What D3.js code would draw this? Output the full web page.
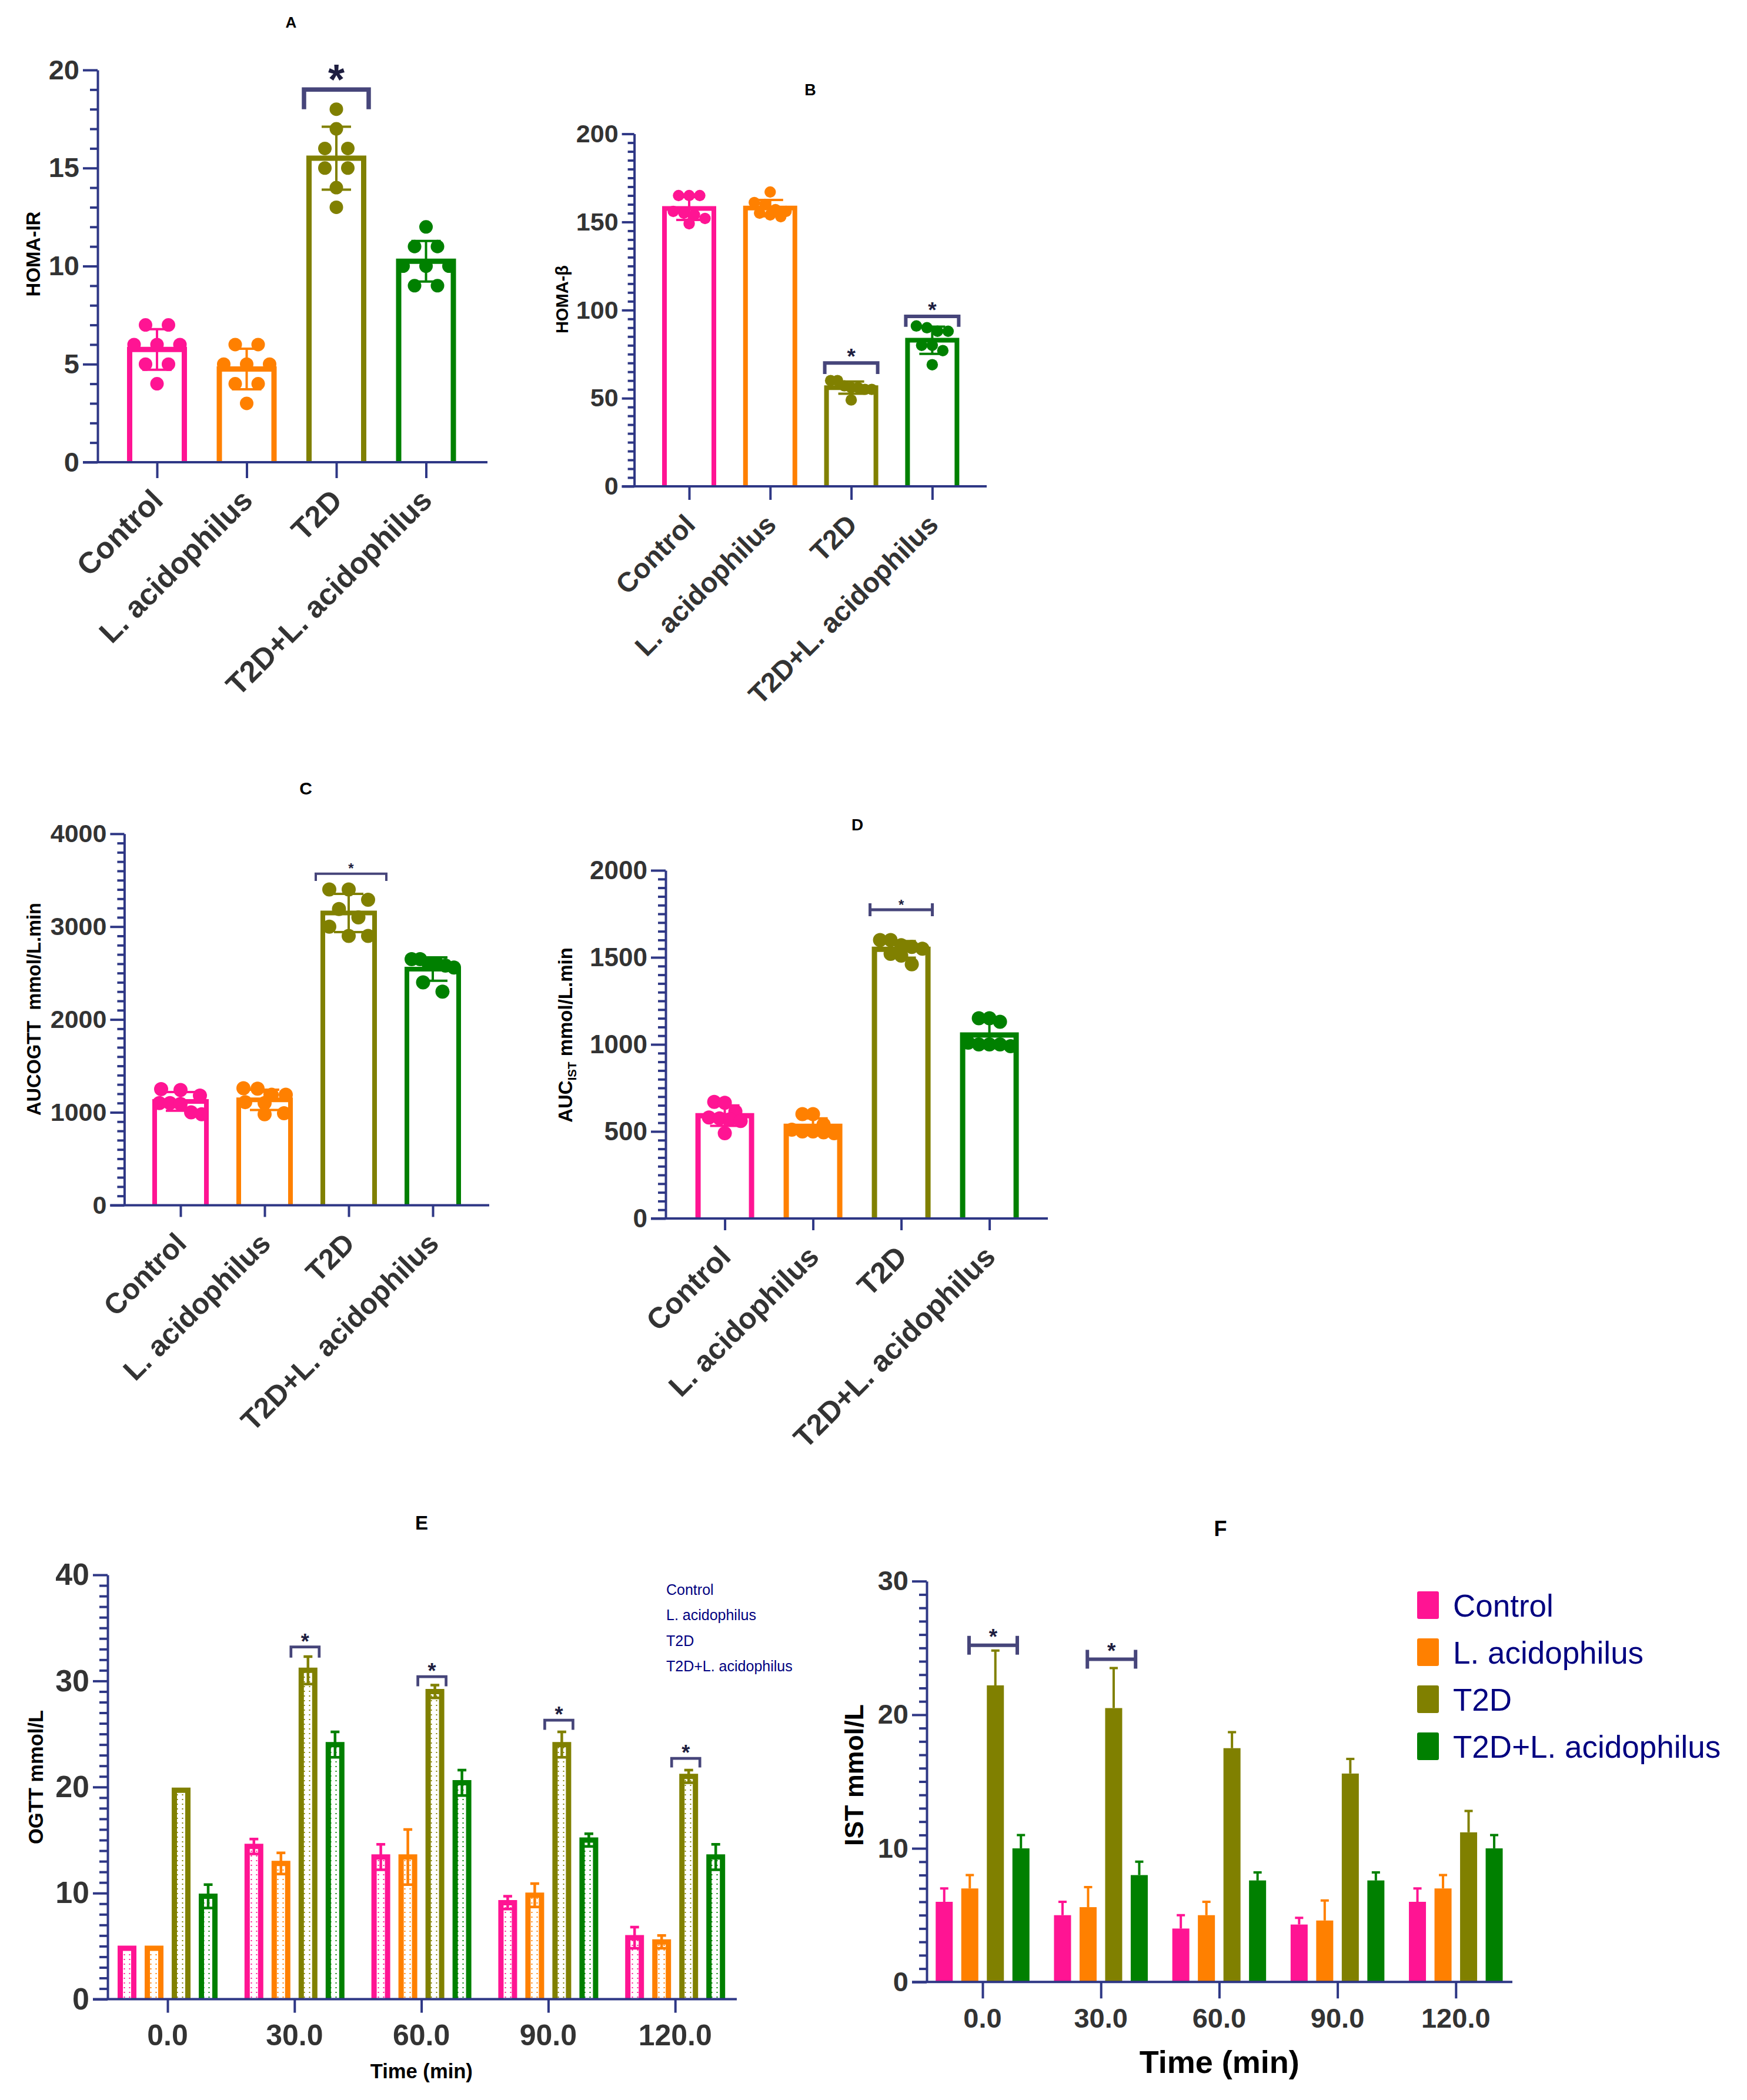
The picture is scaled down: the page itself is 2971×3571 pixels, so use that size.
<!DOCTYPE html>
<html>
<head>
<meta charset="utf-8">
<title>HOMA indices, AUC and glucose tolerance panels</title>
<script src="https://d3js.org/d3.v7.min.js"></script>
<style>
body, html { margin: 0; padding: 0; background: #fff; }
svg { display: block; }
text { font-family: "Liberation Sans", Arial, sans-serif; }
</style>
</head>
<body>
<script>
var W = 2971, H = 3571;

// ---- data ----
var groups = ["Control", "L. acidophilus", "T2D", "T2D+L. acidophilus"];
var groupColors = ["#FF1493", "#FF8000", "#808000", "#008000"];
var times = ["0.0", "30.0", "60.0", "90.0", "120.0"];

// individual animals (n = 8 per group)
var homaIR = [
  [7, 7, 6, 6, 6, 5, 5, 4],
  [6, 6, 5, 5, 5, 4, 4, 3],
  [18, 17, 16, 16, 15, 15, 14, 13],
  [12, 11, 11, 10, 10, 10, 9, 9]
];
var homaB = [
  [165, 165, 165, 156, 155, 154, 152, 149],
  [167, 161, 160, 157, 156, 155, 154, 153],
  [60, 60, 57, 56, 56, 55, 55, 49],
  [91, 90, 88, 88, 80, 80, 77, 69]
];
var aucOgtt = [
  [1250, 1240, 1180, 1100, 1100, 1090, 1000, 980],
  [1260, 1255, 1190, 1190, 1110, 1100, 990, 980],
  [3400, 3400, 3290, 3190, 3100, 3000, 2900, 2900],
  [2650, 2650, 2600, 2600, 2580, 2560, 2400, 2300]
];
var aucIst = [
  [670, 665, 615, 580, 575, 570, 560, 490],
  [600, 600, 540, 510, 500, 500, 495, 490],
  [1600, 1600, 1570, 1560, 1550, 1520, 1510, 1460],
  [1150, 1150, 1130, 1010, 1000, 1000, 1000, 990]
];

// OGTT time course, mean and SD per group
var ogttMean = [
  [4.8, 14.4, 13.4, 9.1, 5.8],
  [4.8, 12.8, 13.4, 9.8, 5.4],
  [19.7, 31.0, 29.0, 24.0, 21.0],
  [9.7, 24.0, 20.4, 15.0, 13.4]
];
var ogttSD = [
  [0, 0.7, 1.2, 0.6, 1.0],
  [0, 1.0, 2.6, 1.1, 0.6],
  [0, 1.3, 0.6, 1.2, 0.6],
  [1.1, 1.2, 1.2, 0.6, 1.2]
];

// IST time course, mean and SD per group
var istMean = [
  [6.0, 5.0, 4.0, 4.3, 6.0],
  [7.0, 5.6, 5.0, 4.6, 7.0],
  [22.2, 20.5, 17.5, 15.6, 11.2],
  [10.0, 8.0, 7.6, 7.6, 10.0]
];
var istSD = [
  [1.0, 1.0, 1.0, 0.5, 1.0],
  [1.0, 1.5, 1.0, 1.5, 1.0],
  [2.6, 3.0, 1.2, 1.1, 1.6],
  [1.0, 1.0, 0.6, 0.6, 1.0]
];

// significance brackets: group/time index, bracket level, leg end level
var sigA = [{ i: 2, top: 19, bottom: 18 }];
var sigB = [{ i: 2, top: 70, bottom: 63.7 }, { i: 3, top: 96.4, bottom: 90.5 }];
var sigC = [{ i: 2, top: 3570, bottom: 3492 }];
var sigD = [{ i: 2, top: 1774 }];
var sigE = [{ i: 1, top: 33.2, bottom: 32.2 }, { i: 2, top: 30.4, bottom: 29.5 },
            { i: 3, top: 26.3, bottom: 25.4 }, { i: 4, top: 22.7, bottom: 21.85 }];
var sigF = [{ i: 0, top: 25.2 }, { i: 1, top: 24.15 }];

// ---- styles ----
var AXIS = "#2E3785", BRACKET = "#46457A", STAR = "#1E1E40", TICK = "#333333", LEGEND = "#000080";

var svg = d3.select("body").append("svg")
  .attr("width", W).attr("height", H)
  .attr("viewBox", "0 0 " + W + " " + H);
svg.append("rect").attr("width", W).attr("height", H).attr("fill", "#fff");

var defs = svg.append("defs");
groupColors.forEach(function(c, k) {
  var p = defs.append("pattern").attr("id", "dots" + k)
    .attr("patternUnits", "userSpaceOnUse").attr("width", 9).attr("height", 8);
  p.append("rect").attr("width", 9).attr("height", 8).attr("fill", "#fff");
  p.append("rect").attr("x", 3.5).attr("y", 3).attr("width", 2).attr("height", 2).attr("fill", c);
});

function title(cfg) {
  svg.append("text")
    .attr("x", cfg.titleX).attr("y", cfg.titleY + 0.358 * cfg.titleSize)
    .attr("text-anchor", "middle").attr("font-weight", "bold")
    .attr("font-size", cfg.titleSize).attr("fill", "#000").text(cfg.title);
}

function yAxis(g, y, cfg, fmt) {
  var lo = cfg.domain[0], hi = cfg.domain[1];
  var minorVals = d3.range(lo, hi + cfg.minor / 2, cfg.minor).filter(function(v) {
    return Math.abs(v / cfg.major - Math.round(v / cfg.major)) > 1e-6;
  });
  var gm = g.append("g").attr("transform", "translate(" + cfg.axisX + ",0)")
    .call(d3.axisLeft(y).tickValues(minorVals).tickSize(cfg.minorLen).tickSizeOuter(0).tickFormat(""));
  gm.select(".domain").remove();
  gm.selectAll("line").attr("stroke", AXIS).attr("stroke-width", 4);

  var gM = g.append("g").attr("transform", "translate(" + cfg.axisX + ",0)")
    .call(d3.axisLeft(y).tickValues(d3.range(lo, hi + cfg.major / 2, cfg.major))
      .tickSize(cfg.majorLen).tickSizeOuter(0).tickPadding(6).tickFormat(fmt || d3.format("d")));
  gM.attr("font-family", null).attr("font-size", null);
  gM.select(".domain").attr("stroke", AXIS).attr("stroke-width", 4);
  gM.selectAll("line").attr("stroke", AXIS).attr("stroke-width", 4);
  gM.selectAll("text").attr("font-size", cfg.tickFont).attr("font-weight", "bold").attr("fill", TICK);

  // horizontal axis line
  g.append("line")
    .attr("x1", cfg.axisX - cfg.majorLen).attr("x2", cfg.axisEnd)
    .attr("y1", y(0)).attr("y2", y(0))
    .attr("stroke", AXIS).attr("stroke-width", 4);
}

function xTicks(g, x, y, cfg) {
  var gx = g.append("g").attr("transform", "translate(0," + y(0) + ")")
    .call(d3.axisBottom(x).tickSize(cfg.xTickLen).tickSizeOuter(0).tickFormat(""));
  gx.select(".domain").remove();
  gx.selectAll("line").attr("stroke", AXIS).attr("stroke-width", 4);
}

function yTitle(g, cfg) {
  var t = g.append("text")
    .attr("transform", "translate(" + (cfg.yLabelX + 0.358 * cfg.yLabelFont) + "," + cfg.yLabelY + ") rotate(-90)")
    .attr("text-anchor", "middle").attr("font-weight", "bold")
    .attr("font-size", cfg.yLabelFont).attr("fill", "#000")
    .style("white-space", "pre");
  if (cfg.yLabelSub) {
    t.append("tspan").text(cfg.yLabel);
    t.append("tspan").attr("font-size", cfg.yLabelFont * 0.62).attr("dy", cfg.yLabelFont * 0.22).text(cfg.yLabelSub);
    t.append("tspan").attr("dy", -cfg.yLabelFont * 0.22).text(cfg.yLabelRest);
  } else {
    t.text(cfg.yLabel);
  }
}

function star(g, x, yLine, cfg) {
  g.append("text")
    .attr("x", x).attr("y", yLine - cfg.starGap + 0.585 * cfg.starFont)
    .attr("text-anchor", "middle").attr("font-weight", "bold")
    .attr("font-size", cfg.starFont).attr("fill", STAR).text("*");
}

function bracket(g, x1, x2, y, cfg, yLeg) {
  if (yLeg !== undefined) {
    g.append("path")
      .attr("d", "M" + x1 + "," + yLeg + "V" + y + "H" + x2 + "V" + yLeg)
      .attr("fill", "none").attr("stroke", BRACKET).attr("stroke-width", cfg.bracketWidth)
      .attr("stroke-linejoin", "miter");
  } else {
    g.append("path")
      .attr("d", "M" + x1 + "," + y + "H" + x2 +
        "M" + x1 + "," + (y - cfg.capHalf) + "V" + (y + cfg.capHalf) +
        "M" + x2 + "," + (y - cfg.capHalf) + "V" + (y + cfg.capHalf))
      .attr("fill", "none").attr("stroke", BRACKET).attr("stroke-width", cfg.bracketWidth);
  }
}

// spread points of similar height into symmetric rows, kept inside the bar
function swarm(vals, y, r, spread, maxRow) {
  var pts = vals.map(function(v) { return { v: v, y: y(v) }; })
    .sort(function(a, b) { return b.v - a.v; });
  var rows = [];
  pts.forEach(function(p) {
    var row = rows[rows.length - 1];
    if (row && p.y - row[0].y < 1.6 * r) row.push(p); else rows.push([p]);
  });
  rows.forEach(function(row) {
    var n = row.length;
    var s = n > 1 ? Math.min(spread, maxRow / (n - 1)) : 0;
    row.forEach(function(p, j) { p.dx = (j - (n - 1) / 2) * s; });
  });
  return pts;
}

function scatterPanel(cfg, values, sigs) {
  title(cfg);
  var g = svg.append("g");
  var y = d3.scaleLinear().domain(cfg.domain).range([cfg.yBottom, cfg.yTop]);
  var x = d3.scalePoint().domain(groups)
    .range([cfg.firstX, cfg.firstX + cfg.step * (groups.length - 1)]);

  var half = (cfg.barW - cfg.barStroke) / 2;
  groups.forEach(function(name, k) {
    var vals = values[k];
    var m = d3.mean(vals), sd = d3.deviation(vals);
    var cx = x(name), c = groupColors[k];
    g.append("path")
      .attr("d", "M" + (cx - half) + "," + y(0) + "V" + y(m) + "H" + (cx + half) + "V" + y(0))
      .attr("fill", "#fff").attr("stroke", c).attr("stroke-width", cfg.barStroke);
    g.selectAll(null).data(swarm(vals, y, cfg.r, cfg.spread, cfg.maxRow)).join("circle")
      .attr("cx", function(p) { return cx + p.dx; })
      .attr("cy", function(p) { return p.y; })
      .attr("r", cfg.r).attr("fill", c);
    var cap = cfg.errCap / 2;
    g.append("path")
      .attr("d", "M" + cx + "," + y(m - sd) + "V" + y(m + sd) +
        "M" + (cx - cap) + "," + y(m + sd) + "H" + (cx + cap) +
        "M" + (cx - cap) + "," + y(m - sd) + "H" + (cx + cap))
      .attr("fill", "none").attr("stroke", c).attr("stroke-width", 4);
  });

  yAxis(g, y, cfg);
  xTicks(g, x, y, cfg);
  yTitle(g, cfg);

  g.selectAll(".xlab").data(groups).join("text")
    .attr("transform", function(d) {
      return "translate(" + (x(d) + 13) + "," + (y(0) + 68) + ") rotate(-45)";
    })
    .attr("text-anchor", "end").attr("font-weight", "bold")
    .attr("font-size", cfg.xLabelFont).attr("fill", TICK)
    .text(function(d) { return d; });

  sigs.forEach(function(s) {
    var cx = x(groups[s.i]) + (cfg.bracketShift || 0);
    var yl = y(s.top);
    bracket(g, cx - cfg.bracketHalf, cx + cfg.bracketHalf, yl, cfg,
      s.bottom !== undefined ? y(s.bottom) : undefined);
    star(g, cx, yl, cfg);
  });
}

function groupedPanel(cfg, means, sds, sigs) {
  title(cfg);
  var g = svg.append("g");
  var y = d3.scaleLinear().domain(cfg.domain).range([cfg.yBottom, cfg.yTop]);
  var x = d3.scalePoint().domain(times)
    .range([cfg.firstX, cfg.firstX + cfg.step * (times.length - 1)]);

  groups.forEach(function(name, k) {
    var c = groupColors[k];
    times.forEach(function(t, j) {
      var m = means[k][j], sd = sds[k][j];
      var cx = x(t) + (k - 1.5) * cfg.barStep;
      if (cfg.outlined) {
        var half = (cfg.barW - cfg.barStroke) / 2;
        g.append("path")
          .attr("d", "M" + (cx - half) + "," + y(0) + "V" + y(m) + "H" + (cx + half) + "V" + y(0))
          .attr("fill", "url(#dots" + k + ")").attr("stroke", c).attr("stroke-width", cfg.barStroke);
      } else {
        g.append("rect")
          .attr("x", cx - cfg.barW / 2).attr("y", y(m))
          .attr("width", cfg.barW).attr("height", y(0) - y(m))
          .attr("fill", c);
      }
      if (sd > 0) {
        var cap = cfg.errCap / 2;
        var d = "M" + cx + "," + y(m) + "V" + y(m + sd) +
          "M" + (cx - cap) + "," + y(m + sd) + "H" + (cx + cap);
        if (cfg.outlined) {
          d += "M" + cx + "," + y(m) + "V" + y(m - sd) +
            "M" + (cx - cap) + "," + y(m - sd) + "H" + (cx + cap);
        }
        g.append("path").attr("d", d).attr("fill", "none")
          .attr("stroke", c).attr("stroke-width", cfg.errWidth);
      }
    });
  });

  yAxis(g, y, cfg);
  xTicks(g, x, y, cfg);
  yTitle(g, cfg);

  g.selectAll(".tlab").data(times).join("text")
    .attr("x", function(d) { return x(d); })
    .attr("y", y(0) + cfg.xTickBaseline)
    .attr("text-anchor", "middle").attr("font-weight", "bold")
    .attr("font-size", cfg.xTickFont).attr("fill", TICK)
    .text(function(d) { return d; });

  g.append("text")
    .attr("x", cfg.xTitleX).attr("y", cfg.xTitleY)
    .attr("text-anchor", "middle").attr("font-weight", "bold")
    .attr("font-size", cfg.xTitleFont).attr("fill", "#000")
    .text("Time (min)");

  sigs.forEach(function(s) {
    var gx = x(times[s.i]);
    var x1 = gx + cfg.bracketSpan[0], x2 = gx + cfg.bracketSpan[1];
    var yl = y(s.top);
    bracket(g, x1, x2, yl, cfg, s.bottom !== undefined ? y(s.bottom) : undefined);
    star(g, (x1 + x2) / 2, yl, cfg);
  });
  return g;
}

// ---- panels ----
scatterPanel({
  title: "A", titleX: 495, titleY: 38, titleSize: 26,
  axisX: 166, yTop: 119, yBottom: 786, domain: [0, 20], major: 5, minor: 1,
  majorLen: 25, minorLen: 13, xTickLen: 27, firstX: 267, step: 152.5, axisEnd: 829,
  barW: 102, barStroke: 9, r: 11.5, spread: 39, maxRow: 78, errCap: 50,
  tickFont: 47, xLabelFont: 51,
  yLabel: "HOMA-IR", yLabelX: 56, yLabelY: 432, yLabelFont: 33,
  starFont: 72, starGap: 34, bracketHalf: 55, bracketWidth: 7.5
}, homaIR, sigA);

scatterPanel({
  title: "B", titleX: 1378, titleY: 152, titleSize: 27,
  axisX: 1078.6, yTop: 227.6, yBottom: 827, domain: [0, 200], major: 50, minor: 5,
  majorLen: 21, minorLen: 11, xTickLen: 23, firstX: 1172, step: 137.8, axisEnd: 1678,
  barW: 92, barStroke: 8, r: 9.7, spread: 18, maxRow: 70, errCap: 44,
  tickFont: 43, xLabelFont: 47,
  yLabel: "HOMA-\u03b2", yLabelX: 956, yLabelY: 509, yLabelFont: 29,
  starFont: 37, starGap: 19.5, bracketHalf: 45, bracketWidth: 6
}, homaB, sigB);

scatterPanel({
  title: "C", titleX: 520, titleY: 1340, titleSize: 30,
  axisX: 211.4, yTop: 1417.8, yBottom: 2049.4, domain: [0, 4000], major: 1000, minor: 100,
  majorLen: 24, minorLen: 12, xTickLen: 20, firstX: 307, step: 143, axisEnd: 832,
  barW: 96, barStroke: 8, r: 12, spread: 33, maxRow: 72, errCap: 50,
  tickFont: 43, xLabelFont: 49,
  yLabel: "AUCOGTT  mmol/L.min", yLabelX: 57, yLabelY: 1716, yLabelFont: 32.6,
  starFont: 24, starGap: 14.6, bracketHalf: 60, bracketShift: 4, bracketWidth: 4
}, aucOgtt, sigC);

scatterPanel({
  title: "D", titleX: 1458, titleY: 1402, titleSize: 28,
  axisX: 1132, yTop: 1480, yBottom: 2072, domain: [0, 2000], major: 500, minor: 50,
  majorLen: 25, minorLen: 13, xTickLen: 20, firstX: 1232.6, step: 150, axisEnd: 1782,
  barW: 100, barStroke: 9, r: 12, spread: 18, maxRow: 74, errCap: 50,
  tickFont: 44, xLabelFont: 50,
  yLabel: "AUC", yLabelSub: "IST", yLabelRest: " mmol/L.min",
  yLabelX: 961, yLabelY: 1760, yLabelFont: 33,
  starFont: 24, starGap: 14.3, bracketHalf: 53, bracketWidth: 5, capHalf: 11
}, aucIst, sigD);

groupedPanel({
  title: "E", titleX: 717, titleY: 2589, titleSize: 33,
  axisX: 183, yTop: 2678, yBottom: 3399.6, domain: [0, 40], major: 10, minor: 1,
  majorLen: 25, minorLen: 14, xTickLen: 23, firstX: 285, step: 215.8, axisEnd: 1253,
  outlined: true, barStep: 46, barW: 32, barStroke: 9, errCap: 15, errWidth: 4.5,
  tickFont: 52, xTickFont: 50, xTickBaseline: 78,
  yLabel: "OGTT mmol/L", yLabelX: 60.6, yLabelY: 3022, yLabelFont: 34.5,
  xTitleX: 716.8, xTitleY: 3534, xTitleFont: 34.6,
  starFont: 36, starGap: 18, bracketSpan: [-6, 42], bracketWidth: 4.7
}, ogttMean, ogttSD, sigE);

groupedPanel({
  title: "F", titleX: 2075.6, titleY: 2599, titleSize: 36,
  axisX: 1576, yTop: 2688.7, yBottom: 3370.3, domain: [0, 30], major: 10, minor: 1,
  majorLen: 25, minorLen: 13, xTickLen: 28, firstX: 1671, step: 201.2, axisEnd: 2572,
  outlined: false, barStep: 43.5, barW: 29, errCap: 14, errWidth: 4,
  tickFont: 47, xTickFont: 47, xTickBaseline: 78,
  yLabel: "IST mmol/L", yLabelX: 1452, yLabelY: 3018.5, yLabelFont: 44.7,
  xTitleX: 2073.7, xTitleY: 3524.6, xTitleFont: 54,
  starFont: 37, starGap: 23, bracketSpan: [-23, 59], bracketWidth: 6, capHalf: 16
}, istMean, istSD, sigF);

// ---- legends ----
var legE = svg.append("g").attr("transform", "translate(1133,2711.5)");
legE.selectAll("text").data(groups).join("text")
  .attr("x", 0).attr("y", function(d, i) { return i * 43.6; })
  .attr("font-size", 25).attr("fill", LEGEND)
  .text(function(d) { return d; });

var legF = svg.append("g").attr("transform", "translate(2410,2706)");
legF.selectAll("rect").data(groups).join("rect")
  .attr("x", 0).attr("y", function(d, i) { return i * 80; })
  .attr("width", 37).attr("height", 47).attr("rx", 3)
  .attr("fill", function(d, i) { return groupColors[i]; });
legF.selectAll("text").data(groups).join("text")
  .attr("x", 61).attr("y", function(d, i) { return 42.6 + i * 80; })
  .attr("font-size", 53).attr("fill", LEGEND)
  .text(function(d) { return d; });
</script>
</body>
</html>
